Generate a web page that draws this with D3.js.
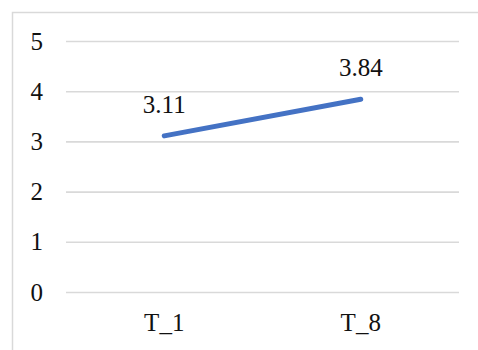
<!DOCTYPE html>
<html>
<head>
<meta charset="utf-8">
<script src="https://cdn.jsdelivr.net/npm/d3@7"></script>
</head>
<body style="margin:0">
<svg id="chart" width="478" height="350" font-family="Times New Roman, serif"></svg>
<script>
// Mean scores at the two time points
const categories = ["T_1", "T_8"];
const values = [3.11, 3.84];
const yTicks = [0, 1, 2, 3, 4, 5];

const svg = d3.select("#chart");
const W = 478, H = 350;
const plot = { left: 66, right: 459, top: 41, bottom: 292 };

// Chart frame (runs past the right and bottom edges of the view)
svg.append("rect")
  .attr("x", 12.5).attr("y", 12.5)
  .attr("width", W).attr("height", H)
  .attr("fill", "none")
  .attr("stroke", "#d9d9d9")
  .attr("stroke-width", 1.5);

const x = d3.scaleBand().domain(categories).range([plot.left, plot.right]);
const y = d3.scaleLinear().domain([0, 5]).range([plot.bottom, plot.top]);

function styleText(sel) {
  sel.attr("font-size", 25)
    .style("font-family", "'Times New Roman'")
    .attr("fill", "#111");
}

// Horizontal gridlines with value labels
const yAxis = d3.axisLeft(y).tickValues(yTicks).tickSize(-(plot.right - plot.left)).tickPadding(23).tickFormat(d3.format("d"));
const gy = svg.append("g").attr("transform", `translate(${plot.left},0)`).call(yAxis);
gy.attr("font-family", "Times New Roman, serif");
gy.select(".domain").remove();
gy.selectAll(".tick line").attr("stroke", "#d9d9d9").attr("stroke-width", 1.6);
styleText(gy.selectAll(".tick text"));

// Category labels
const xAxis = d3.axisBottom(x).tickSize(0).tickPadding(21);
const gx = svg.append("g").attr("transform", `translate(0,${plot.bottom})`).call(xAxis);
gx.attr("font-family", "Times New Roman, serif");
gx.select(".domain").remove();
styleText(gx.selectAll(".tick text"));

// Series line
const line = d3.line()
  .x((d, i) => x(categories[i]) + x.bandwidth() / 2)
  .y(d => y(d));

svg.append("path")
  .datum(values)
  .attr("d", line)
  .attr("fill", "none")
  .attr("stroke", "#4472c4")
  .attr("stroke-width", 5)
  .attr("stroke-linecap", "round");

// Data labels above each point
const labels = svg.selectAll(".label")
  .data(values)
  .enter().append("text")
  .attr("class", "label")
  .attr("x", (d, i) => x(categories[i]) + x.bandwidth() / 2)
  .attr("y", d => y(d) - 23)
  .attr("text-anchor", "middle")
  .text(d => d.toFixed(2));
styleText(labels);
</script>
</body>
</html>
